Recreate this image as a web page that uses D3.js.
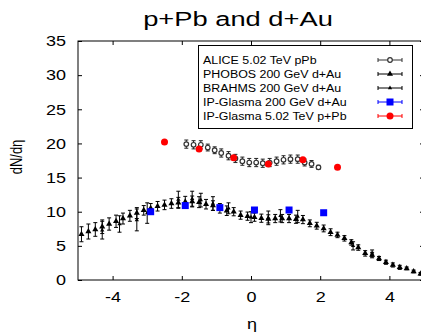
<!DOCTYPE html>
<html>
<head>
<meta charset="utf-8">
<script src="https://cdn.jsdelivr.net/npm/d3@7"></script>
<style>
  html, body { margin: 0; padding: 0; background: #fff; }
  svg { display: block; }
  text { font-family: "Liberation Sans", Arial, Helvetica, sans-serif; fill: #000; }
</style>
</head>
<body>
<svg id="chart" width="421" height="334"></svg>
<script>
// ALICE 5.02 TeV p+Pb
const aliceEta = [-1.87,-1.66,-1.45,-1.25,-1.05,-0.86,-0.65,-0.45,-0.25,-0.05,0.15,0.34,0.54,0.74,0.94,1.14,1.35,1.55,1.75,1.95];
const aliceVal = [19.9,19.8,19.8,19.4,19.0,18.6,18.2,17.8,17.4,17.2,17.2,17.1,17.2,17.4,17.6,17.7,17.7,17.2,17.0,16.5];
const aliceErr = [0.6,0.6,0.6,0.5,0.5,0.6,0.6,0.6,0.6,0.6,0.6,0.6,0.6,0.6,0.6,0.6,0.6,0.5,0.5,0.3];

// PHOBOS 200 GeV d+Au
const phobosEta = [-4.9,-4.7,-4.5,-4.3,-4.1,-3.9,-3.7,-3.5,-3.3,-3.1,-2.9,-2.7,-2.5,-2.3,-2.1,-1.9,-1.7,-1.5,-1.3,-1.1,-0.9,-0.7,-0.5,-0.3,-0.1,0.1,0.3,0.5,0.7,0.9,1.1,1.3,1.5,1.7,1.9,2.1,2.3,2.5,2.7,2.9,3.1,3.3,3.5,3.7,3.9,4.1,4.3,4.5,4.7,4.9];
const phobosVal = [6.7,7.1,7.4,7.8,8.2,8.6,9.0,9.4,9.8,10.2,10.5,10.8,11.0,11.2,11.3,11.45,11.5,11.4,11.1,10.9,10.5,10.15,10.0,9.5,9.35,9.2,9.05,8.95,9.0,9.0,9.0,8.9,8.85,8.3,7.95,7.55,7.0,6.6,6.1,5.5,4.75,3.9,3.65,3.15,2.6,2.2,1.85,1.7,1.25,0.9];
const phobosErr = [1.1,1.1,1.0,1.0,0.9,0.9,0.8,0.8,0.8,0.7,0.7,0.7,0.7,0.7,0.8,0.8,0.8,0.8,0.7,0.7,0.7,0.7,0.6,0.6,0.6,0.6,0.6,0.6,0.6,0.6,0.6,0.6,0.6,0.5,0.5,0.5,0.5,0.4,0.4,0.4,0.4,0.4,0.4,0.3,0.3,0.3,0.3,0.2,0.2,0.2];

// BRAHMS 200 GeV d+Au
const brahmsEta = [-4.3,-3.8,-3.3,-3.0,-2.1,-1.7,-1.45,-1.1,-0.65,0.0,0.5,0.85,1.35,2.95,3.5];
const brahmsVal = [7.3,8.2,8.8,9.8,11.8,11.9,11.7,11.2,10.5,9.2,9.1,9.4,9.3,5.0,3.9];
const brahmsErr = [1.3,1.2,1.6,1.5,1.2,1.1,1.0,1.0,0.8,0.8,1.0,0.9,0.9,0.6,0.5];

// IP-Glasma 200 GeV d+Au
const glasmaDAuEta = [-2.9,-1.9,-0.9,0.1,1.1,2.1];
const glasmaDAuVal = [10.0,10.9,10.6,10.25,10.25,9.85];

// IP-Glasma 5.02 TeV p+Pb
const glasmaPPbEta = [-2.5,-1.5,-0.5,0.5,1.5,2.5];
const glasmaPPbVal = [20.2,19.2,17.9,17.0,17.6,16.5];

const xTicks = [-4,-2,0,2,4];
const yTicks = [0,5,10,15,20,25,30,35];

const legendLabels = [
  "ALICE 5.02 TeV pPb",
  "PHOBOS 200 GeV d+Au",
  "BRAHMS 200 GeV d+Au",
  "IP-Glasma 200 GeV d+Au",
  "IP-Glasma 5.02 TeV p+Pb"
];

const svg = d3.select("#chart");
const x = d3.scaleLinear().domain([-5, 5]).range([78, 424]);
const y = d3.scaleLinear().domain([0, 35]).range([280, 41]);

const zip = (e, v, r) => e.map((d, i) => ({eta: d, val: v[i], err: r ? r[i] : 0}));
const plain = d => String(d);

// axes with inward ticks on all four sides
const axes = svg.append("g");
axes.append("g").attr("transform", `translate(0,${y(0)})`)
  .call(d3.axisBottom(x).tickValues(xTicks).tickSizeInner(-4).tickSizeOuter(0).tickPadding(11).tickFormat(plain))
  .call(g => g.select(".domain").remove());
axes.append("g").attr("transform", `translate(0,${y(35)})`)
  .call(d3.axisTop(x).tickValues(xTicks).tickSizeInner(-4).tickSizeOuter(0).tickFormat(""))
  .call(g => g.select(".domain").remove());
const yAxisG = axes.append("g").attr("transform", `translate(${x(-5)},0)`)
  .call(d3.axisLeft(y).tickValues(yTicks).tickSizeInner(-4).tickSizeOuter(0).tickPadding(10).tickFormat(plain))
  .call(g => g.select(".domain").remove());
axes.append("g").attr("transform", `translate(${x(5)},0)`)
  .call(d3.axisRight(y).tickValues(yTicks).tickSizeInner(-4).tickSizeOuter(0).tickFormat(""))
  .call(g => g.select(".domain").remove());
axes.selectAll(".tick line").attr("stroke", "#000");
axes.selectAll(".tick text")
  .style("font-size", "15px")
  .style("font-family", "'Liberation Sans', Arial, sans-serif")
  .attr("transform", "scale(1.2,1)");

svg.append("rect")
  .attr("x", x(-5)).attr("y", y(35))
  .attr("width", x(5) - x(-5)).attr("height", y(0) - y(35))
  .attr("fill", "none").attr("stroke", "#000").attr("stroke-width", 1);

// error bars with caps
function errorBars(data, color, cap) {
  const g = svg.append("g").attr("stroke", color).attr("stroke-width", 1);
  data.forEach(d => {
    const cx = x(d.eta), y1 = y(d.val - d.err), y2 = y(d.val + d.err);
    g.append("line").attr("x1", cx).attr("x2", cx).attr("y1", y1).attr("y2", y2);
    g.append("line").attr("x1", cx - cap).attr("x2", cx + cap).attr("y1", y1).attr("y2", y1);
    g.append("line").attr("x1", cx - cap).attr("x2", cx + cap).attr("y1", y2).attr("y2", y2);
  });
}

const tri = s => d3.symbol().type(d3.symbolTriangle).size(s);

const alice = zip(aliceEta, aliceVal, aliceErr);
const phobos = zip(phobosEta, phobosVal, phobosErr);
const brahms = zip(brahmsEta, brahmsVal, brahmsErr);
const glasmaDAu = zip(glasmaDAuEta, glasmaDAuVal);
const glasmaPPb = zip(glasmaPPbEta, glasmaPPbVal);

errorBars(alice, "#222", 2);
svg.append("g").selectAll("circle").data(alice).join("circle")
  .attr("cx", d => x(d.eta)).attr("cy", d => y(d.val)).attr("r", 2.3)
  .attr("fill", "#fff").attr("stroke", "#333").attr("stroke-width", 1.2);

errorBars(phobos, "#000", 2);
svg.append("g").selectAll("path").data(phobos).join("path")
  .attr("transform", d => `translate(${x(d.eta)},${y(d.val)})`)
  .attr("d", tri(16)).attr("fill", "#000");

errorBars(brahms, "#000", 2);
svg.append("g").selectAll("path").data(brahms).join("path")
  .attr("transform", d => `translate(${x(d.eta)},${y(d.val)})`)
  .attr("d", tri(8)).attr("fill", "#000");

svg.append("g").selectAll("rect").data(glasmaDAu).join("rect")
  .attr("x", d => x(d.eta) - 3.5).attr("y", d => y(d.val) - 3.5)
  .attr("width", 7).attr("height", 7).attr("fill", "#0000ff");

svg.append("g").selectAll("circle").data(glasmaPPb).join("circle")
  .attr("cx", d => x(d.eta)).attr("cy", d => y(d.val)).attr("r", 3.5)
  .attr("fill", "#ff0000");

// legend
const lg = svg.append("g");
lg.append("rect").attr("x", 198.5).attr("y", 45.5).attr("width", 214).attr("height", 83)
  .attr("fill", "#fff").attr("stroke", "#000").attr("stroke-width", 1);
const legendColors = ["#333", "#000", "#000", "#0000ff", "#ff0000"];
legendLabels.forEach((label, i) => {
  const ly = 60 + i * 14;
  lg.append("text").attr("transform", `translate(203,${ly + 4}) scale(1.08,1)`)
    .style("font-size", "11.5px").text(label);
  const c = legendColors[i];
  lg.append("line").attr("x1", 378).attr("x2", 402).attr("y1", ly).attr("y2", ly).attr("stroke", c);
  lg.append("line").attr("x1", 378).attr("x2", 378).attr("y1", ly - 2).attr("y2", ly + 2).attr("stroke", c);
  lg.append("line").attr("x1", 402).attr("x2", 402).attr("y1", ly - 2).attr("y2", ly + 2).attr("stroke", c);
  if (i === 0) lg.append("circle").attr("cx", 390).attr("cy", ly).attr("r", 2.3).attr("fill", "#fff").attr("stroke", c).attr("stroke-width", 1.2);
  if (i === 1) lg.append("path").attr("transform", `translate(390,${ly})`).attr("d", tri(16)).attr("fill", c);
  if (i === 2) lg.append("path").attr("transform", `translate(390,${ly})`).attr("d", tri(8)).attr("fill", c);
  if (i === 3) lg.append("rect").attr("x", 386.5).attr("y", ly - 3.5).attr("width", 7).attr("height", 7).attr("fill", c);
  if (i === 4) lg.append("circle").attr("cx", 390).attr("cy", ly).attr("r", 3.5).attr("fill", c);
});

// titles
svg.append("text").attr("transform", "translate(238,26) scale(1.3,1)").attr("text-anchor", "middle")
  .style("font-size", "21px").text("p+Pb and d+Au");
svg.append("text").attr("transform", "translate(252,329) scale(1.2,1)").attr("text-anchor", "middle")
  .style("font-size", "15px").text("η");
svg.append("text").attr("transform", "translate(22,157) rotate(-90) scale(1,1.2)").attr("text-anchor", "middle")
  .style("font-size", "13px").text("dN/dη");
</script>
</body>
</html>
